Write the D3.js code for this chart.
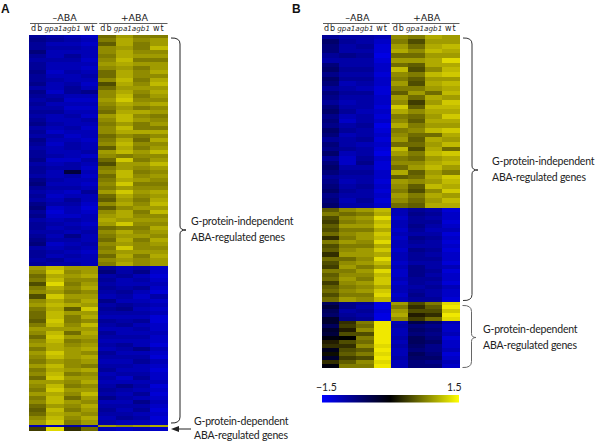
<!DOCTYPE html>
<html>
<head>
<meta charset="utf-8">
<script src="https://cdn.jsdelivr.net/npm/d3@7"></script>
<style>
  html, body { margin: 0; padding: 0; background: #fff; }
  svg { display: block; }
</style>
</head>
<body>
<svg id="chart"></svg>
<script>
const columns = ['-db', '-gpa1', '-agb1', '-wt', '+db', '+gpa1', '+agb1', '+wt'];
const groupLabels = ['\u2013ABA', '+ABA'];
const sampleLabels = ['db', 'gpa1agb1', 'wt'];
const legendDomain = [-1.5, 0, 1.5];
const legendStops = [-1.5, -1.25, -1, -0.75, -0.5, -0.25, 0, 0.25, 0.5, 0.75, 1, 1.25, 1.5];

// panel A, independent genes, down in -ABA and up in +ABA
const aTop = [
  [-1.0,-1.1,-1.2,-1.3, 0.7,1.0,0.8,0.8],
  [-0.9,-1.0,-1.1,-1.2, 0.8,1.1,0.9,1.0],
  [-1.0,-1.2,-1.2,-1.3, 0.6,1.1,0.8,1.0],
  [-1.0,-1.1,-1.1,-1.2, 0.9,1.0,0.8,1.2],
  [-0.8,-1.2,-1.2,-1.2, 0.9,1.1,0.9,0.9],
  [-1.0,-1.2,-1.0,-1.2, 0.8,1.1,1.0,1.0],
  [-1.1,-1.1,-1.1,-1.3, 0.9,1.2,0.8,0.8],
  [-1.0,-1.2,-1.2,-1.2, 1.0,1.1,1.0,1.0],
  [-1.0,-1.2,-1.2,-1.3, 0.9,1.0,0.8,1.0],
  [-0.9,-1.3,-1.1,-1.2, 0.7,1.1,0.9,1.1],
  [-1.0,-1.2,-1.2,-1.1, 0.7,1.1,0.9,0.9],
  [-1.0,-1.1,-1.2,-1.2, 0.9,1.2,0.8,1.1],
  [-0.9,-1.2,-1.1,-1.3, 0.5,1.1,0.9,1.2],
  [-1.1,-1.2,-1.0,-1.2, 0.7,1.0,1.0,1.0],
  [-0.9,-1.3,-1.0,-0.9, 0.9,1.1,0.9,1.1],
  [-1.0,-1.1,-1.2,-1.2, 0.9,1.2,0.8,1.0],
  [-1.1,-1.0,-1.3,-1.3, 1.0,1.3,0.9,0.9],
  [-1.0,-1.2,-1.2,-1.2, 0.9,1.1,1.0,1.1],
  [-1.1,-1.1,-1.3,-1.3, 0.8,1.0,0.8,0.9],
  [-1.0,-1.0,-1.2,-1.2, 0.7,1.1,1.1,1.0],
  [-1.1,-1.2,-1.1,-1.3, 1.0,1.2,0.9,0.8],
  [-1.0,-1.2,-1.2,-1.1, 0.9,1.2,1.0,0.9],
  [-0.9,-1.1,-1.2,-1.2, 0.8,1.0,0.8,1.0],
  [-1.1,-1.2,-1.1,-1.3, 0.9,1.2,0.8,0.8],
  [-1.0,-1.3,-1.2,-1.2, 0.9,1.1,1.1,1.1],
  [-1.1,-1.1,-1.3,-1.2, 0.7,0.9,0.8,0.9],
  [-0.9,-1.2,-1.2,-1.3, 0.8,1.1,0.7,1.1],
  [-1.0,-1.3,-1.1,-1.2, 0.9,1.2,0.9,0.9],
  [-1.1,-1.2,-1.1,-1.2, 0.6,1.1,0.8,1.0],
  [-1.0,-1.2,-1.2,-1.1, 1.0,1.2,1.0,1.2],
  [-1.0,-1.1,-1.2,-1.3, 0.9,0.8,0.9,0.9],
  [-0.9,-1.3,-1.3,-1.1, 0.7,1.3,0.8,1.0],
  [-1.1,-1.2,-1.1,-1.2, 0.5,1.0,1.0,1.2],
  [-1.0,-1.1,-1.1,-1.3, 0.8,1.0,0.9,1.0],
  [-1.0,-1.2,-0.4,-1.2, 0.9,1.2,0.8,0.9],
  [-1.1,-1.2,-1.1,-1.3, 0.7,1.2,0.9,1.0],
  [-0.9,-1.1,-1.2,-1.2, 0.8,1.1,1.0,0.9],
  [-0.8,-1.2,-1.2,-1.3, 0.9,1.3,0.8,0.8],
  [-1.0,-1.1,-1.1,-1.2, 0.8,1.0,0.9,0.9],
  [-1.1,-1.2,-1.3,-1.0, 1.0,1.3,1.0,1.1],
  [-1.0,-1.3,-1.2,-1.2, 0.7,1.1,0.9,1.0],
  [-1.1,-1.2,-1.0,-1.2, 0.6,1.0,0.8,1.1],
  [-0.9,-1.1,-1.1,-1.3, 0.9,1.1,0.9,1.2],
  [-0.8,-1.3,-1.2,-1.4, 0.6,0.9,1.0,1.0],
  [-1.0,-1.4,-1.2,-1.3, 0.9,1.1,0.8,1.2],
  [-0.9,-1.3,-1.3,-1.2, 1.0,1.1,0.9,0.9],
  [-1.1,-1.2,-1.1,-1.2, 1.1,1.0,1.0,1.0],
  [-1.0,-1.1,-1.2,-1.3, 1.0,1.3,0.9,0.9],
  [-1.0,-1.2,-1.1,-1.2, 0.7,0.8,0.8,1.1],
  [-1.1,-1.1,-1.2,-1.1, 0.9,1.1,0.9,1.0],
  [-1.0,-1.2,-0.9,-1.2, 0.8,1.0,1.0,0.9],
  [-0.9,-1.1,-1.1,-1.2, 0.7,1.1,0.8,1.1],
  [-0.8,-1.3,-1.2,-1.1, 0.9,1.0,0.9,1.0],
  [-1.1,-1.2,-1.1,-1.2, 0.8,1.3,0.9,0.9],
  [-1.0,-1.1,-1.2,-1.3, 0.9,1.0,1.0,1.0],
  [-1.0,-1.2,-1.1,-1.2, 0.7,1.1,0.8,1.1],
  [-1.1,-1.0,-1.2,-1.2, 0.9,1.0,0.9,1.0],
  [-1.0,-1.1,-1.1,-1.2, 0.8,1.1,0.9,1.0]
];

// panel A, independent genes, up in -ABA and down in +ABA
const aLow = [
  [1.0,1.2,1.0,1.0, -1.0,-1.2,-1.1,-1.3],
  [0.9,1.3,0.9,1.0, -0.8,-1.1,-0.9,-1.3],
  [0.7,1.1,1.0,1.1, -1.1,-1.0,-1.2,-1.4],
  [0.8,1.2,0.9,0.9, -1.0,-1.2,-1.1,-1.3],
  [0.5,1.4,0.8,1.0, -1.1,-1.2,-1.2,-1.2],
  [0.8,1.1,0.9,1.1, -1.0,-1.1,-1.0,-1.3],
  [0.9,1.0,0.8,0.9, -1.1,-1.0,-1.2,-1.4],
  [0.5,1.3,1.0,1.0, -1.2,-1.1,-1.3,-1.1],
  [0.9,1.1,0.9,1.1, -0.9,-1.2,-1.2,-1.3],
  [1.0,1.2,1.1,1.0, -1.1,-1.0,-1.1,-1.2],
  [0.8,1.1,0.6,1.3, -1.0,-0.9,-1.2,-1.3],
  [0.7,1.2,1.0,1.0, -1.1,-1.1,-1.1,-1.2],
  [0.7,1.2,0.8,1.1, -1.2,-1.2,-1.2,-1.4],
  [0.6,1.3,0.8,0.9, -1.0,-1.1,-1.0,-1.4],
  [0.8,1.2,0.9,1.2, -1.1,-1.0,-1.2,-1.3],
  [1.0,1.0,1.0,1.0, -1.2,-1.2,-1.1,-1.3],
  [0.9,1.2,0.7,1.1, -1.0,-1.2,-1.2,-1.2],
  [0.7,1.3,1.0,1.0, -1.1,-1.1,-1.1,-1.3],
  [0.9,1.2,0.8,0.9, -1.2,-1.2,-1.2,-1.3],
  [1.0,1.1,0.9,1.0, -1.1,-1.0,-1.2,-1.4],
  [0.8,1.1,1.0,1.1, -1.2,-1.1,-0.9,-1.2],
  [1.0,1.3,1.0,0.9, -1.0,-1.2,-1.2,-1.3],
  [0.9,1.2,1.0,1.1, -1.1,-1.1,-1.1,-1.4],
  [0.8,1.0,0.9,1.0, -1.2,-1.2,-1.0,-1.2],
  [1.0,1.2,0.9,0.8, -1.1,-1.1,-1.2,-1.3],
  [0.8,1.1,1.0,1.1, -1.0,-1.2,-1.2,-1.4],
  [0.9,1.2,0.8,0.9, -1.2,-1.1,-1.1,-1.3],
  [0.7,1.3,1.0,1.0, -1.1,-1.3,-1.0,-1.3],
  [1.0,1.0,0.9,1.1, -1.2,-1.2,-1.2,-1.2],
  [0.9,1.2,0.8,0.9, -1.1,-0.9,-1.1,-1.4],
  [0.8,1.3,1.0,1.0, -1.0,-1.1,-1.2,-1.3],
  [1.0,1.1,0.9,1.2, -1.1,-1.2,-1.0,-1.4],
  [0.8,1.2,0.7,1.0, -0.9,-1.1,-1.2,-1.3],
  [0.9,1.2,1.0,0.9, -1.2,-1.2,-0.9,-1.2],
  [0.7,1.0,0.9,1.1, -1.1,-1.1,-1.1,-1.3],
  [0.6,1.2,0.8,1.0, -1.0,-1.2,-1.0,-1.4],
  [0.7,1.1,1.0,0.9, -1.1,-1.1,-1.2,-1.3],
  [0.9,1.2,0.9,1.1, -1.2,-1.0,-1.1,-1.4],
  [1.0,1.3,0.8,1.0, -1.1,-1.2,-1.2,-1.3]
];

// panel A, dependent genes
const aDep = [
  [-1.2,-1.2,-1.1,-1.2, 1.0,0.9,1.0,1.1],
  [0.4,1.4,0.3,0.7, -1.2,-1.3,-1.2,-1.3]
];

// panel B, independent genes
const bTop = [
  [-1.0,-1.1,-1.1,-1.2, 0.9,0.8,1.1,1.0],
  [-0.7,-1.0,-1.1,-1.3, 0.8,0.5,1.0,1.0],
  [-0.8,-1.1,-1.0,-1.4, 1.0,0.7,1.1,1.2],
  [-0.8,-1.1,-1.1,-1.4, 1.1,0.9,1.2,1.1],
  [-1.0,-0.9,-1.0,-1.5, 0.7,0.7,1.0,1.0],
  [-1.1,-1.1,-1.1,-1.4, 1.0,1.0,1.1,1.4],
  [-0.8,-1.1,-1.1,-1.3, 0.7,0.6,1.1,1.1],
  [-0.7,-1.0,-1.0,-1.3, 1.2,0.5,0.9,1.2],
  [-0.9,-1.1,-1.1,-1.4, 0.9,0.8,1.2,1.3],
  [-0.7,-1.0,-1.0,-1.3, 0.8,0.6,1.0,1.0],
  [-0.8,-1.2,-1.1,-1.3, 1.0,0.5,1.1,1.2],
  [-1.0,-1.1,-1.2,-1.4, 0.8,0.8,1.0,1.1],
  [-0.8,-1.0,-1.0,-1.4, 0.6,1.0,0.7,1.2],
  [-0.9,-1.1,-1.1,-1.3, 1.0,0.7,1.1,1.0],
  [-1.0,-1.2,-1.1,-1.3, 0.9,0.4,1.0,1.3],
  [-0.8,-1.1,-1.1,-1.4, 1.3,0.6,1.2,1.2],
  [-0.7,-1.0,-1.2,-1.3, 1.1,0.9,1.1,1.1],
  [-0.9,-1.2,-1.1,-1.4, 0.8,0.7,1.0,1.3],
  [-0.8,-1.3,-1.1,-1.3, 0.9,0.6,1.1,1.1],
  [-0.9,-1.1,-1.0,-1.5, 1.1,0.8,1.0,1.0],
  [-0.7,-1.0,-1.1,-1.4, 0.8,0.9,1.2,1.3],
  [-0.8,-1.2,-1.1,-1.3, 0.9,0.7,0.7,1.1],
  [-1.0,-1.1,-1.0,-1.4, 1.0,0.6,1.1,1.0],
  [-0.8,-1.1,-1.2,-1.3, 0.7,0.7,1.0,1.2],
  [-0.9,-1.0,-1.1,-1.4, 1.2,0.5,1.1,0.7],
  [-0.7,-1.2,-1.1,-1.5, 1.0,0.8,1.2,1.3],
  [-1.0,-1.3,-1.0,-1.3, 0.8,0.7,1.0,1.1],
  [-0.8,-1.3,-0.9,-1.4, 0.9,0.9,1.1,1.2],
  [-0.7,-1.1,-1.1,-1.4, 0.7,1.0,1.2,1.0],
  [-0.8,-1.0,-1.0,-1.3, 1.1,0.6,1.0,0.8],
  [-1.0,-1.1,-1.1,-1.3, 0.6,0.7,1.1,1.3],
  [-0.9,-1.2,-1.1,-1.4, 1.0,0.9,1.0,1.2],
  [-0.8,-1.1,-1.0,-1.3, 0.9,0.6,1.2,1.1],
  [-0.7,-1.0,-1.1,-1.4, 0.8,0.5,0.9,1.3],
  [-0.9,-1.1,-1.1,-1.3, 1.0,0.8,1.1,1.0],
  [-0.8,-1.2,-1.0,-1.4, 0.9,0.7,1.0,1.2],
  [-0.7,-1.1,-1.1,-1.3, 0.7,0.6,1.1,1.1]
];

const bLow = [
  [0.6,0.9,1.0,1.2, -1.2,-1.0,-1.1,-1.4],
  [0.8,0.7,0.8,1.1, -1.2,-0.9,-1.0,-1.3],
  [0.5,0.9,1.0,1.4, -1.3,-1.0,-1.1,-1.3],
  [0.4,0.8,0.9,1.2, -1.2,-1.0,-1.0,-1.4],
  [0.6,1.0,1.0,1.3, -1.2,-0.9,-1.1,-1.3],
  [0.5,0.8,0.8,1.1, -1.3,-1.0,-1.2,-1.2],
  [0.7,0.9,1.0,1.3, -1.2,-1.1,-1.1,-1.4],
  [0.3,0.8,1.0,1.2, -1.3,-0.9,-1.0,-1.3],
  [0.8,1.0,0.9,1.4, -1.2,-1.0,-1.1,-1.4],
  [0.5,0.8,0.8,1.1, -1.2,-1.1,-1.1,-1.3],
  [0.6,0.9,1.0,1.3, -1.3,-0.9,-1.0,-1.4],
  [0.3,1.0,1.0,1.1, -1.2,-1.0,-1.1,-1.3],
  [0.7,0.7,0.9,1.4, -1.2,-1.0,-1.0,-1.3],
  [0.5,0.9,1.0,1.2, -1.3,-1.1,-1.1,-1.4],
  [0.4,1.0,0.8,1.0, -1.2,-0.9,-1.1,-1.2],
  [0.8,0.8,1.0,1.4, -1.3,-0.9,-1.0,-1.4],
  [0.6,0.9,0.9,1.2, -1.3,-0.9,-1.1,-1.3],
  [0.7,1.0,0.8,1.3, -1.2,-1.0,-1.0,-1.3],
  [0.4,0.9,1.0,1.3, -1.3,-1.0,-1.1,-1.4],
  [0.6,0.8,0.9,1.1, -1.2,-1.1,-1.0,-1.2],
  [0.7,0.9,1.0,1.3, -1.2,-1.0,-1.1,-1.3],
  [0.5,0.8,0.8,1.4, -1.3,-0.9,-1.1,-1.3],
  [0.7,1.0,0.9,1.2, -1.2,-1.0,-1.0,-1.4]
];

const bDepTop = [
  [-0.6,-0.9,-1.0,-1.5, 1.0,0.5,0.8,1.4],
  [-0.4,-0.9,-1.1,-1.5, 0.8,0.3,0.6,1.5],
  [-0.6,-1.1,-1.0,-1.4, 1.0,0.5,0.5,1.3],
  [-0.7,-1.0,-1.1,-1.5, 1.1,0.2,0.3,1.5],
  [-0.3,-0.9,-1.0,-1.5, 0.9,0.4,0.7,1.4]
];

const bDepLow = [
  [-0.3,0.3,0.8,1.5, -1.2,-0.5,-0.7,-1.2],
  [-0.6,0.4,0.7,1.5, -1.1,-0.8,-0.9,-1.3],
  [-0.3,0.2,0.9,1.5, -1.2,-0.7,-0.8,-1.3],
  [-0.4,0.5,0.5,1.5, -1.2,-0.8,-0.9,-1.2],
  [-0.1,0.0,0.8,1.5, -1.1,-0.6,-0.8,-1.4],
  [0.2,0.5,0.7,1.5, -1.2,-0.6,-0.7,-1.3],
  [0.3,0.3,0.9,1.4, -1.1,-0.7,-0.9,-1.3],
  [-0.2,0.5,0.6,1.5, -1.2,-0.8,-0.9,-1.2],
  [0.1,0.6,0.8,1.4, -1.2,-0.6,-0.8,-1.4],
  [-0.3,0.4,0.5,1.5, -1.1,-0.7,-0.7,-1.3],
  [0.3,0.6,0.9,1.4, -1.2,-0.8,-0.9,-1.2],
  [-0.1,0.8,0.8,1.5, -1.2,-0.8,-0.8,-1.3]
];

const w = 600;
const h = 443;

const svg = d3.select('#chart')
  .attr('width', w)
  .attr('height', h);

const defs = svg.append('defs');

// The scanned look of the heatmaps
defs.append('filter')
  .attr('id', 'soften')
  .append('feGaussianBlur')
  .attr('stdDeviation', 0.5);

// Color Scales, the cells print a bit darker than the legend
const scaleColor = d3.scaleLinear()
  .domain(legendDomain)
  .range(['#0000ff', '#000000', '#ffff00'])
  .clamp(true);

const scaleCell = d3.scaleLinear()
  .domain(legendDomain)
  .range(['#0000e4', '#000000', '#f0e800'])
  .clamp(true);

const headFont = '"DejaVu Sans", sans-serif';
const noteFont = 'Lato, sans-serif';

const drawPanel = (name, left, right, blocks) => {

  const scaleX = d3.scaleBand().domain(columns).range([left, right]);
  const g = svg.append('g').attr('id', 'panel-' + name);
  const cells = g.append('g').attr('filter', 'url(#soften)');

  blocks.forEach(block => {

    const scaleY = d3.scaleBand()
      .domain(d3.range(block.rows.length))
      .range([block.top, block.bottom]);

    cells.append('g')
      .selectAll('g')
      .data(block.rows)
      .enter()
      .append('g')
      .selectAll('rect')
      .data((row, i) => row.map((value, j) => ({ value, row: i, column: columns[j] })))
      .enter()
      .append('rect')
      .attr('class', 'cell')
      .attr('x', d => scaleX(d.column))
      .attr('y', d => scaleY(d.row))
      .attr('width', scaleX.bandwidth() + 0.5)
      .attr('height', scaleY.bandwidth() + 0.5)
      .attr('shape-rendering', 'crispEdges')
      .attr('fill', d => scaleCell(d.value));

  });

  // Header
  const bw = scaleX.bandwidth();
  const mid = scaleX('+db');
  const spans = [[left + 1, mid - 1], [mid + 1, right]];

  spans.forEach((span, i) => {

    g.append('line')
      .attr('x1', span[0]).attr('x2', span[1])
      .attr('y1', 23.5).attr('y2', 23.5)
      .attr('stroke', '#333')
      .attr('stroke-width', 0.8);

    g.append('text')
      .attr('x', (span[0] + span[1]) / 2 + 1)
      .attr('y', 21)
      .attr('text-anchor', 'middle')
      .attr('font-family', headFont)
      .attr('font-size', 9.5)
      .attr('fill', '#222')
      .text(groupLabels[i]);

    const start = i === 0 ? left : mid;
    const labelX = [start + bw * 0.5 - 0.5, start + bw * 2 - 1, start + bw * 3.5];

    sampleLabels.forEach((label, k) => {
      g.append('text')
        .attr('x', labelX[k])
        .attr('y', 31)
        .attr('text-anchor', 'middle')
        .attr('font-family', headFont)
        .attr('font-style', k === 1 ? 'italic' : 'normal')
        .attr('font-size', k === 1 ? 7.2 : 8)
        .attr('letter-spacing', k === 1 ? 0 : 1)
        .attr('fill', '#222')
        .text(label);
    });

  });

};

drawPanel('a', 29, 167.5, [
  { rows: aTop, top: 34.5, bottom: 266 },
  { rows: aLow, top: 266, bottom: 424.5 },
  { rows: aDep, top: 424.5, bottom: 430 }
]);

drawPanel('b', 322, 459.5, [
  { rows: bTop, top: 34.5, bottom: 207.5 },
  { rows: bLow, top: 207.5, bottom: 301.5 },
  { rows: bDepTop, top: 301.5, bottom: 320.5 },
  { rows: bDepLow, top: 320.5, bottom: 367.5 }
]);

// Panel letters
[['A', 1, 13], ['B', 292, 13]].forEach(([label, x, y]) => {
  svg.append('text')
    .attr('x', x)
    .attr('y', y)
    .attr('font-family', '"Liberation Sans", sans-serif')
    .attr('font-weight', 'bold')
    .attr('font-size', 12)
    .attr('fill', '#111')
    .text(label);
});

// Brackets
const bracket = (x, y0, y1, tipY, tipX, color) => {
  const p = d3.path();
  p.moveTo(x - 9, y0);
  p.quadraticCurveTo(x, y0 - 0.5, x, y0 + 6);
  p.lineTo(x, tipY - 4);
  p.quadraticCurveTo(x, tipY, tipX, tipY);
  p.quadraticCurveTo(x, tipY, x, tipY + 4);
  p.lineTo(x, y1 - 6);
  p.quadraticCurveTo(x, y1 + 0.5, x - 9, y1);
  svg.append('path')
    .attr('d', p.toString())
    .attr('fill', 'none')
    .attr('stroke', color)
    .attr('stroke-width', 1);
};

bracket(180, 38, 423, 230, 186, '#222');
bracket(472, 38, 300.5, 170, 478, '#333');
bracket(471.5, 305.5, 367.5, 337.5, 476, '#666');

// Arrow
svg.append('line')
  .attr('x1', 191).attr('x2', 177)
  .attr('y1', 429).attr('y2', 429)
  .attr('stroke', '#222')
  .attr('stroke-width', 1);

svg.append('path')
  .attr('d', d3.line()([[171, 429], [179, 426], [179, 432]]) + 'Z')
  .attr('fill', '#222');

// Notes
const notes = [
  ['G-protein-independent', 191, 225],
  ['ABA-regulated genes', 191, 241],
  ['G-protein-dependent', 194, 425],
  ['ABA-regulated genes', 194, 439],
  ['G-protein-independent', 492, 165],
  ['ABA-regulated genes', 492, 181],
  ['G-protein-dependent', 483, 333],
  ['ABA-regulated genes', 483, 349]
];

svg.append('g')
  .selectAll('text')
  .data(notes)
  .enter()
  .append('text')
  .attr('x', d => d[1])
  .attr('y', d => d[2])
  .attr('font-family', noteFont)
  .attr('font-size', 10.5)
  .attr('letter-spacing', -0.2)
  .attr('fill', '#222')
  .text(d => d[0]);

// Legend
const legendScaleX = d3.scaleLinear().domain([-1.5, 1.5]).range([322, 459]);

const gradient = defs.append('linearGradient')
  .attr('id', 'legend-gradient');

gradient.selectAll('stop')
  .data(legendStops)
  .enter()
  .append('stop')
  .attr('offset', d => (legendScaleX(d) - 322) / 137)
  .attr('stop-color', d => scaleColor(d));

svg.append('rect')
  .attr('x', legendScaleX(-1.5))
  .attr('y', 395)
  .attr('width', legendScaleX(1.5) - legendScaleX(-1.5))
  .attr('height', 7.5)
  .attr('fill', 'url(#legend-gradient)');

[['\u22121.5', 316, 391], ['1.5', 447, 391]].forEach(([label, x, y]) => {
  svg.append('text')
    .attr('x', x)
    .attr('y', y)
    .attr('font-family', noteFont)
    .attr('font-size', 10.5)
    .attr('fill', '#222')
    .text(label);
});
</script>
</body>
</html>
